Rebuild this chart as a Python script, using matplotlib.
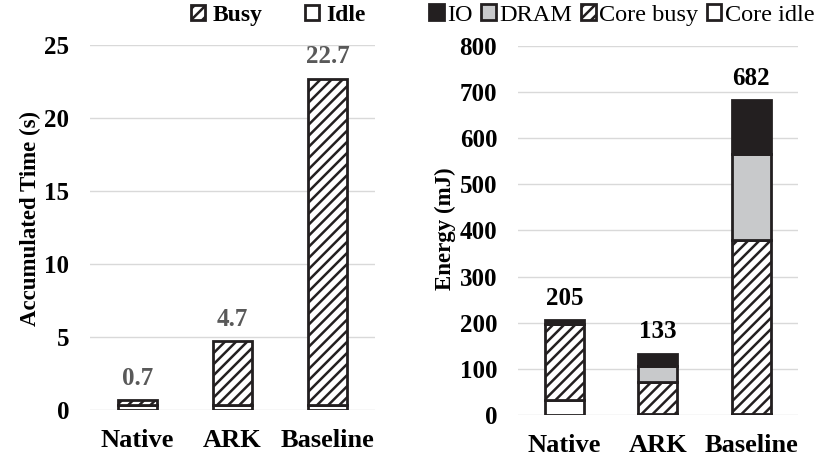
import matplotlib
matplotlib.use("Agg")
import matplotlib.pyplot as plt
import numpy as np

# 데이터
systems = ["Native", "ARK", "Baseline"]
time_idle = [0.35, 0.35, 0.35]
time_busy = [0.35, 4.35, 22.35]
time_total = [0.7, 4.7, 22.7]

energy_idle = [32, 2, 2]
energy_busy = [166, 70, 378]
energy_dram = [0, 34, 186]
energy_io = [7, 27, 116]
energy_total = [205, 133, 682]

plt.rcParams["font.family"] = ["Liberation Serif", "DejaVu Serif"]
plt.rcParams["hatch.linewidth"] = 1.8
plt.rcParams["hatch.color"] = "#231f20"

EDGE = "#231f20"
HATCH = "///"
fig = plt.figure(figsize=(8.23, 4.59), dpi=100)

x = np.arange(len(systems))
w = 0.42

# 왼쪽: 시간
ax1 = fig.add_axes([0.1094, 0.1068, 0.3463, 0.795])
b_idle = ax1.bar(x, time_idle, w, color="white", edgecolor=EDGE, linewidth=2, label="Idle")
b_busy = ax1.bar(x, time_busy, w, bottom=time_idle, color="white", edgecolor=EDGE,
                 linewidth=2, hatch=HATCH, label="Busy")
for xi, t in zip(x, time_total):
    ax1.text(xi, t + 0.7, f"{t}", ha="center", va="bottom", fontsize=18,
             fontweight="bold", color="#595959")
ax1.set_ylim(0, 25)
ax1.set_xlim(-0.5, 2.5)
ax1.set_yticks(range(0, 26, 5))
ax1.set_ylabel("Accumulated Time (s)", fontsize=16.5, fontweight="bold")
ax1.yaxis.set_label_coords(-0.172, 0.526)
ax1.legend([b_busy, b_idle], ["Busy", "Idle"], loc="center right", bbox_to_anchor=(1.0, 1.082),
           ncol=2, frameon=False, prop={"weight": "bold", "size": 17},
           handlelength=0.6, handleheight=0.6, handletextpad=0.3, columnspacing=1.8,
           borderaxespad=0.0)

# 오른쪽: 에너지
ax2 = fig.add_axes([0.6294, 0.0959, 0.340, 0.804])
bottom = np.zeros(3)
h_idle = ax2.bar(x, energy_idle, w, color="white", edgecolor=EDGE, linewidth=2)
bottom += energy_idle
h_busy = ax2.bar(x, energy_busy, w, bottom=bottom, color="white", edgecolor=EDGE,
                 linewidth=2, hatch=HATCH)
bottom += energy_busy
h_dram = ax2.bar(x, energy_dram, w, bottom=bottom, color="#c8c9cb", edgecolor=EDGE, linewidth=2)
bottom += energy_dram
h_io = ax2.bar(x, energy_io, w, bottom=bottom, color=EDGE, edgecolor=EDGE, linewidth=2)
for xi, t in zip(x, energy_total):
    ax2.text(xi, t + 22, f"{t}", ha="center", va="bottom", fontsize=18,
             fontweight="bold", color="black")
ax2.set_ylim(0, 800)
ax2.set_xlim(-0.5, 2.5)
ax2.set_yticks(range(0, 801, 100))
ax2.set_ylabel("Energy (mJ)", fontsize=16.5, fontweight="bold")
ax2.yaxis.set_label_coords(-0.22, 0.504)
ax2.legend([h_io, h_dram, h_busy, h_idle], ["IO", "DRAM", "Core busy", "Core idle"],
           loc="center right", bbox_to_anchor=(1.095, 1.084), ncol=4, frameon=False,
           prop={"size": 17.5}, handlelength=0.6, handleheight=0.6, handletextpad=0.15,
           columnspacing=0.35, borderaxespad=0.0)

for ax in (ax1, ax2):
    ax.set_xticks(x)
    ax.set_xticklabels(systems, fontsize=19, fontweight="bold")
    for lab in ax.get_yticklabels():
        lab.set_fontsize(18)
        lab.set_fontweight("bold")
    ax.tick_params(length=0, pad=15)
    ax.tick_params(axis="x", pad=14)
    for s in ax.spines.values():
        s.set_visible(False)
    ax.yaxis.grid(True, color="#d9d9d9", linewidth=1)
    ax.set_axisbelow(True)

fig.savefig("out.png", dpi=100)
